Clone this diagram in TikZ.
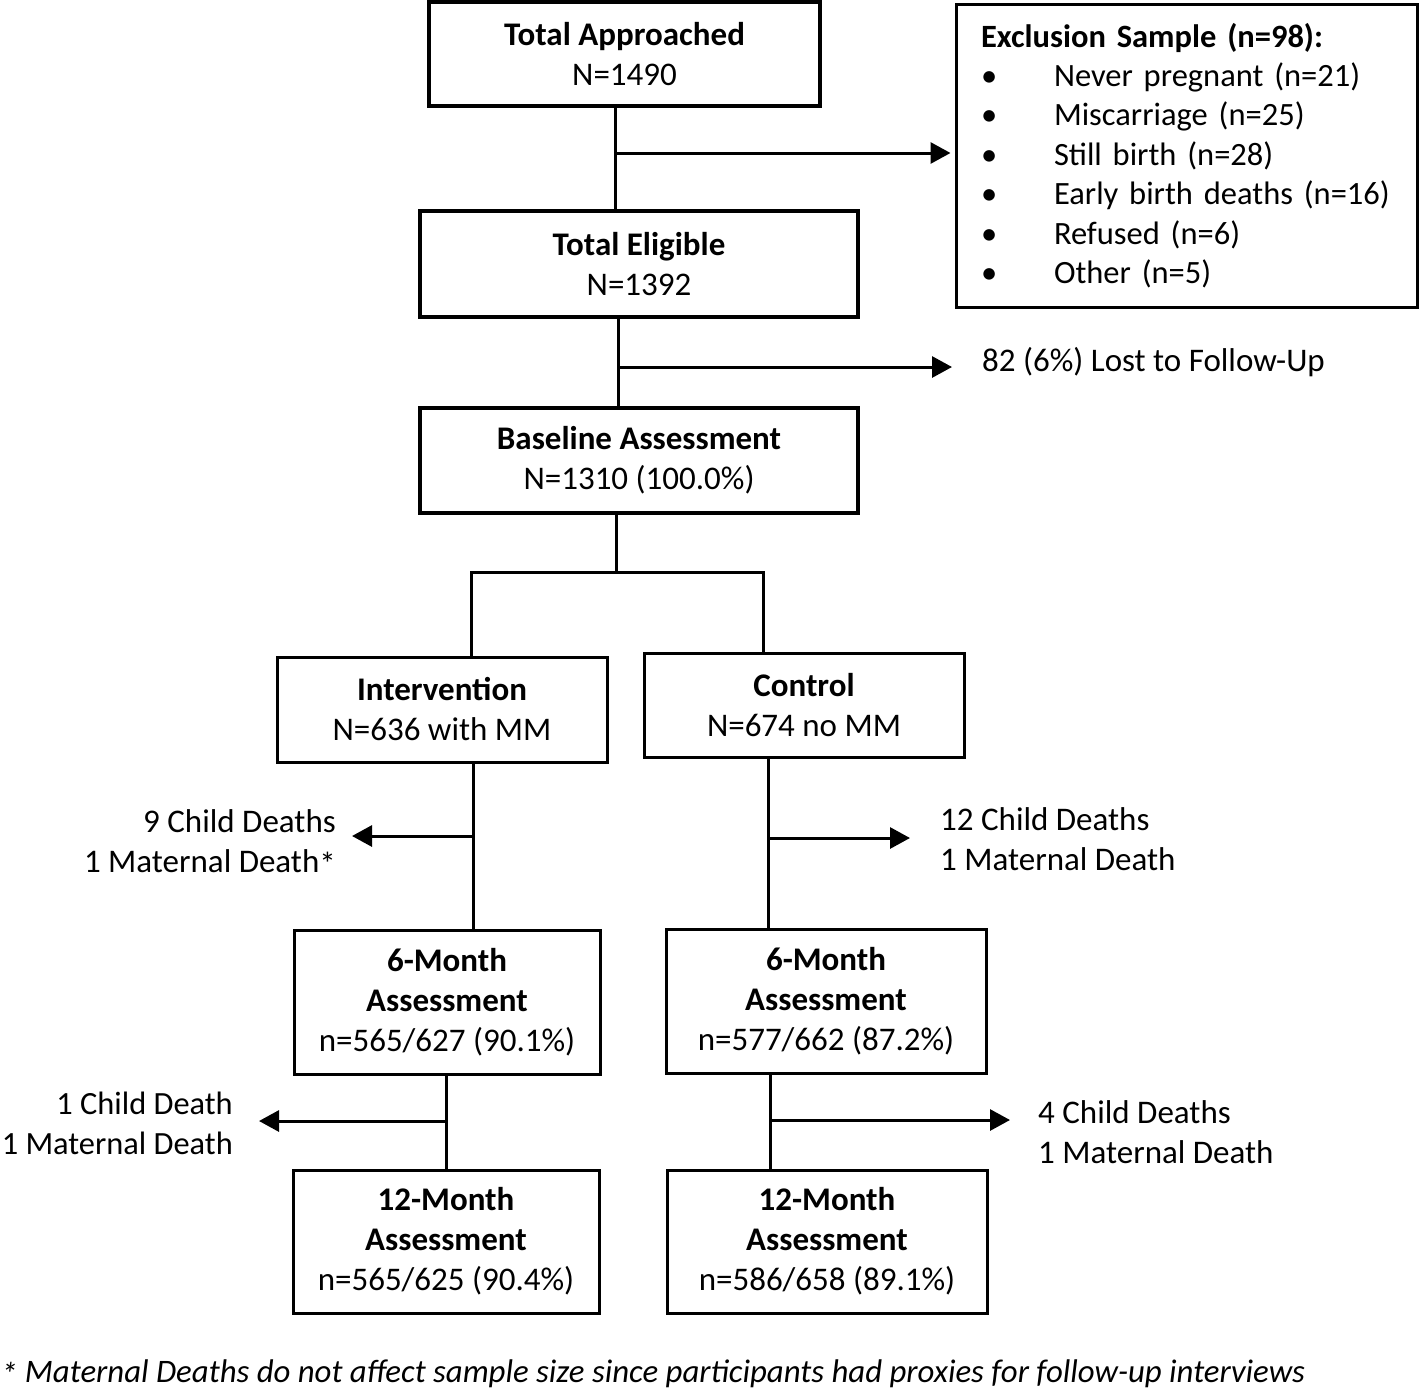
\documentclass[tikz,border=0pt]{standalone}
\usepackage{fontspec}
\setmainfont{Carlito}
\usetikzlibrary{arrows.meta,positioning}

\newcommand{\bull}{\makebox[73pt][l]{•}}
\newcommand{\astk}{\raisebox{-3pt}{*}}

\tikzset{
  box/.style={draw, line width=3pt, align=center, inner sep=0pt,
    font=\fontsize{33}{40}\selectfont},
  topbox/.style={box, line width=4pt},
  note/.style={inner sep=0pt, font=\fontsize{33}{40}\selectfont},
  link/.style={line width=3pt},
  arr/.style={link, -{Triangle[length=20pt,width=21pt]}},
}

\begin{document}
\begin{tikzpicture}[x=1pt,y=-1pt]
  \useasboundingbox (0,0) rectangle (1419,1395);

  % enrolment
  \node[topbox, minimum width=391pt, minimum height=104pt] (appr) at (624.5,54)
    {\textbf{Total Approached}\\N=1490};
  \node[topbox, minimum width=438pt, minimum height=106pt] (elig) at (639,264)
    {\textbf{Total Eligible}\\N=1392};
  \node[topbox, minimum width=438pt, minimum height=105pt] (base) at (639,460.5)
    {\textbf{Baseline Assessment}\\N=1310 (100.0\%)};
  \node[box, minimum width=461pt, minimum height=303pt, text width=411pt,
    align=left, font=\fontsize{32.5}{39.4}\selectfont] (excl) at (1186.5,155.5)
    {\textbf{Exclusion Sample (n=98):}\\
     \bull Never pregnant (n=21)\\
     \bull Miscarriage (n=25)\\
     \bull Still birth (n=28)\\
     \bull Early birth deaths (n=16)\\
     \bull Refused (n=6)\\
     \bull Other (n=5)};
  \node[note, anchor=west] (lost) at (982,362) {82 (6\%) Lost to Follow-Up};

  % arms
  \node[box, minimum width=330pt, minimum height=105pt] (intv) at (442,709.5)
    {\textbf{Intervention}\\N=636 with MM};
  \node[box, minimum width=320pt, minimum height=104pt] (ctrl) at (804,705)
    {\textbf{Control}\\N=674 no MM};
  \node[box, minimum width=306pt, minimum height=144pt] (sixI) at (447,1002)
    {\textbf{6-Month}\\\textbf{Assessment}\\n=565/627 (90.1\%)};
  \node[box, minimum width=320pt, minimum height=144pt] (sixC) at (826,1001)
    {\textbf{6-Month}\\\textbf{Assessment}\\n=577/662 (87.2\%)};
  \node[box, minimum width=306pt, minimum height=143pt] (twI) at (446,1241.5)
    {\textbf{12-Month}\\\textbf{Assessment}\\n=565/625 (90.4\%)};
  \node[box, minimum width=320pt, minimum height=143pt] (twC) at (827,1241.5)
    {\textbf{12-Month}\\\textbf{Assessment}\\n=586/658 (89.1\%)};

  % losses
  \node[note, align=right, anchor=east] (dI) at (336,842.5)
    {9 Child Deaths\\1 Maternal Death\astk};
  \node[note, align=left, anchor=west] (dC) at (940,839.5)
    {12 Child Deaths\\1 Maternal Death};
  \node[note, align=right, anchor=east, font=\fontsize{32.4}{40}\selectfont] (dI2)
    at (233,1123.5) {1 Child Death\\1 Maternal Death};
  \node[note, align=left, anchor=west] (dC2) at (1038,1132.5)
    {4 Child Deaths\\1 Maternal Death};

  \node[note, anchor=west, font=\fontsize{32.8}{40}\selectfont\itshape] (foot)
    at (1,1374) {\astk{} Maternal Deaths do not affect sample size since participants had proxies for follow-up interviews};

  % connectors
  \coordinate (tr1) at (615,153);
  \coordinate (tr2) at (618,367);
  \coordinate (split) at (616,572);
  \coordinate (splitL) at (471,572);
  \coordinate (splitR) at (763,572);
  \coordinate (trI) at (473,836);
  \coordinate (trC) at (768,838);
  \coordinate (trI2) at (446,1121);
  \coordinate (trC2) at (770,1120);

  \draw[link] (appr.south -| tr1) -- (elig.north -| tr1);
  \draw[arr, shorten >=4pt] (tr1) -- (tr1 -| excl.west);
  \draw[link] (elig.south -| tr2) -- (base.north -| tr2);
  \draw[arr, shorten >=30pt] (tr2) -- (tr2 -| lost.west);
  \draw[link] (base.south -| split) -- (split);
  \draw[link] (intv.north -| splitL) -- (splitL) -- (splitR) -- (ctrl.north -| splitR);

  \draw[link] (intv.south -| trI) -- (sixI.north -| trI);
  \draw[arr, shorten >=16pt] (trI) -- (trI -| dI.east);
  \draw[link] (ctrl.south -| trC) -- (sixC.north -| trC);
  \draw[arr, shorten >=30pt] (trC) -- (trC -| dC.west);
  \draw[link] (sixI.south -| trI2) -- (twI.north -| trI2);
  \draw[arr, shorten >=26pt] (trI2) -- (trI2 -| dI2.east);
  \draw[link] (sixC.south -| trC2) -- (twC.north -| trC2);
  \draw[arr, shorten >=28pt] (trC2) -- (trC2 -| dC2.west);
\end{tikzpicture}
\end{document}
